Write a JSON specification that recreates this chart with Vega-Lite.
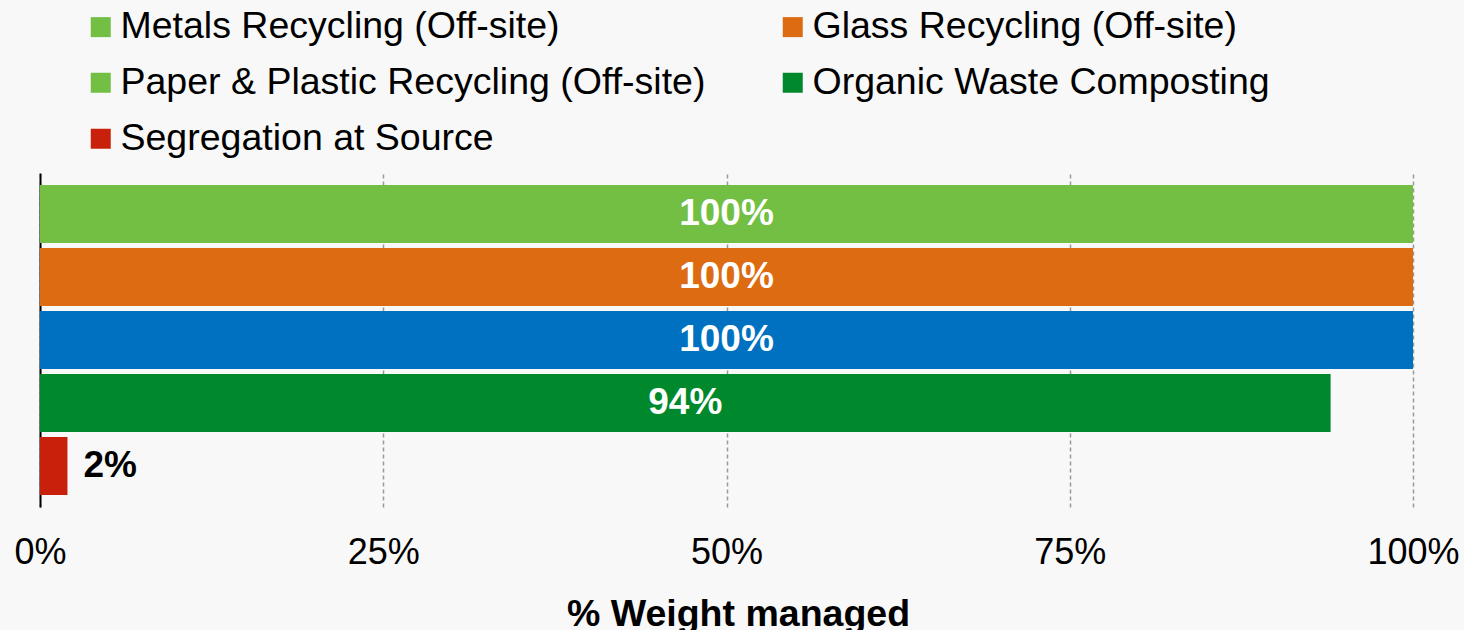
{
  "$schema": "https://vega.github.io/schema/vega-lite/v6.json",
  "width": 1373,
  "height": 334,
  "autosize": "none",
  "padding": {"left": 40, "top": 173, "right": 51, "bottom": 123},
  "background": "#f8f8f8",
  "config": {
    "view": {"stroke": null},
    "font": "Liberation Sans"
  },
  "data": {
    "values": [
      {"category": "Metals Recycling (Off-site)", "value": 1.0},
      {"category": "Glass Recycling (Off-site)", "value": 1.0},
      {"category": "Paper & Plastic Recycling (Off-site)", "value": 1.0},
      {"category": "Organic Waste Composting", "value": 0.94},
      {"category": "Segregation at Source", "value": 0.02}
    ]
  },
  "encoding": {
    "y": {
      "field": "category",
      "type": "nominal",
      "sort": null,
      "scale": {"paddingInner": 0.08, "paddingOuter": 0.19},
      "axis": {
        "title": null,
        "labels": false,
        "ticks": false,
        "domain": true,
        "domainColor": "#000000",
        "domainWidth": 2,
        "grid": false
      }
    }
  },
  "resolve": {"scale": {"x": "independent"}},
  "layer": [
    {
      "mark": {"type": "bar", "opacity": 0},
      "encoding": {
        "fill": {
          "field": "category",
          "type": "nominal",
          "sort": null,
          "scale": {
            "domain": [
              "Metals Recycling (Off-site)",
              "Glass Recycling (Off-site)",
              "Paper & Plastic Recycling (Off-site)",
              "Organic Waste Composting",
              "Segregation at Source"
            ],
            "range": ["#72bf44", "#dd6b11", "#72bf44", "#00892c", "#c8200a"]
          },
          "legend": {
            "title": null,
            "orient": "none",
            "direction": "horizontal",
            "legendX": 42,
            "legendY": -165,
            "columns": 2,
            "columnPadding": 68,
            "rowPadding": 17,
            "labelFontSize": 37.5,
            "labelColor": "#000000",
            "labelLimit": 0,
            "labelOffset": 1,
            "symbolType": "square",
            "symbolSize": 400,
            "symbolStrokeWidth": 0,
            "symbolOpacity": 1
          }
        }
      }
    },
    {
      "mark": {"type": "bar"},
      "encoding": {
        "x": {
          "field": "value",
          "type": "quantitative",
          "scale": {"domain": [0, 1], "nice": false},
          "axis": {
            "title": "% Weight managed",
            "titleFontSize": 37.5,
            "titleFontWeight": "bold",
            "titleColor": "#000000",
            "titlePadding": 25,
            "titleX": 698,
            "format": ".0%",
            "values": [0, 0.25, 0.5, 0.75, 1],
            "labelFontSize": 36,
            "labelColor": "#000000",
            "labelPadding": 28,
            "labelFlush": false,
            "domain": false,
            "ticks": false,
            "grid": true,
            "gridColor": "#999999",
            "gridDash": [4, 3],
            "gridWidth": 1.5
          }
        },
        "color": {
          "field": "category",
          "type": "nominal",
          "sort": null,
          "scale": {
            "domain": [
              "Metals Recycling (Off-site)",
              "Glass Recycling (Off-site)",
              "Paper & Plastic Recycling (Off-site)",
              "Organic Waste Composting",
              "Segregation at Source"
            ],
            "range": ["#72bf44", "#dd6b11", "#0071c1", "#00892c", "#c8200a"]
          },
          "legend": null
        }
      }
    },
    {
      "transform": [{"filter": "datum.value >= 0.1"}],
      "mark": {"type": "text", "color": "#ffffff", "fontSize": 37, "fontWeight": "bold", "baseline": "middle", "align": "center"},
      "encoding": {
        "x": {"field": "value", "type": "quantitative", "scale": {"domain": [0, 2], "nice": false}, "axis": null},
        "text": {"field": "value", "type": "quantitative", "format": ".0%"}
      }
    },
    {
      "transform": [{"filter": "datum.value < 0.1"}],
      "mark": {"type": "text", "color": "#000000", "fontSize": 37, "fontWeight": "bold", "baseline": "middle", "align": "left", "dx": 16},
      "encoding": {
        "x": {"field": "value", "type": "quantitative", "scale": {"domain": [0, 1], "nice": false}, "axis": null},
        "text": {"field": "value", "type": "quantitative", "format": ".0%"}
      }
    }
  ]
}
